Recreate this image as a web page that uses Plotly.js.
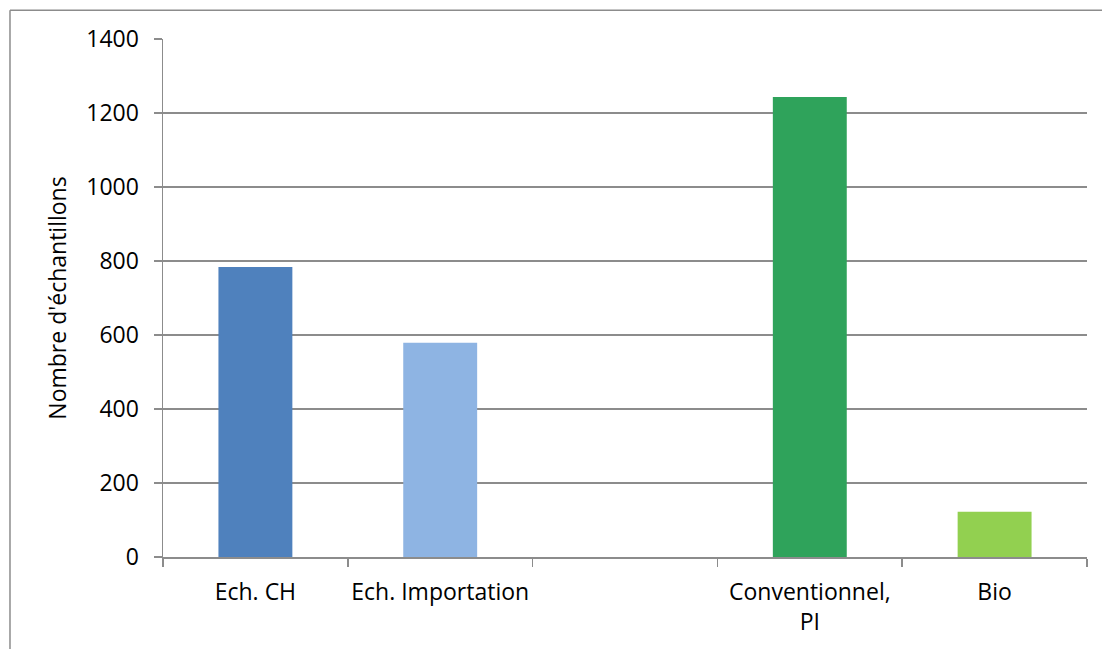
<!DOCTYPE html>
<html>
<head>
<meta charset="utf-8">
<script src="https://cdn.plot.ly/plotly-3.0.1.min.js"></script>
<style>html,body{margin:0;padding:0;background:#fff;}#chart{width:1102px;height:649px;}</style>
</head>
<body>
<div id="chart"></div>
<script>
const categories = ["Ech. CH", "Ech. Importation", "\u00a0", "Conventionnel,<br>PI", "Bio"];
const values = [784, 579, null, 1243, 122];
const barColors = ["#4F81BD", "#8EB4E3", "#FFFFFF", "#2FA35B", "#92D050"];
const yTitle = "Nombre d'échantillons";

const trace = {
  type: "bar",
  x: categories,
  y: values,
  marker: {color: barColors, line: {width: 0}},
  hoverinfo: "x+y"
};

const gridColor = "#8c8c8c";
const fontFam = "'Open Sans', Lato, sans-serif";
const fs = 23;

const layout = {
  width: 1102,
  height: 649,
  margin: {l: 163, r: 15, t: 39, b: 92},
  paper_bgcolor: "#ffffff",
  plot_bgcolor: "#ffffff",
  showlegend: false,
  bargap: 0.6,
  font: {family: fontFam, size: fs, color: "#000000"},
  xaxis: {
    type: "category",
    categoryorder: "array",
    categoryarray: categories,
    range: [-0.5, 4.5],
    tickson: "boundaries",
    tickangle: 0,
    ticks: "outside",
    ticklen: 8,
    tickwidth: 1.5,
    tickcolor: gridColor,
    showline: true,
    linecolor: gridColor,
    linewidth: 1.5,
    showgrid: false,
    zeroline: false,
    ticklabelstandoff: 14,
    tickfont: {family: fontFam, size: fs, color: "#000"},
    fixedrange: true
  },
  yaxis: {
    range: [0, 1400],
    dtick: 200,
    tick0: 0,
    ticks: "outside",
    ticklen: 8,
    tickwidth: 1.5,
    tickcolor: gridColor,
    showline: true,
    linecolor: gridColor,
    linewidth: 1.5,
    showgrid: true,
    gridcolor: gridColor,
    gridwidth: 1.5,
    zeroline: false,
    ticklabelstandoff: 10,
    tickfont: {family: fontFam, size: fs, color: "#000"},
    title: {text: yTitle, font: {family: fontFam, size: fs, color: "#000"}, standoff: 13},
    fixedrange: true
  },
  shapes: [
    {type: "line", xref: "paper", yref: "paper", x0: -0.1656, x1: 1.02, y0: 1.0554, y1: 1.0554, line: {color: gridColor, width: 1.5}},
    {type: "line", xref: "paper", yref: "paper", x0: -0.1656, x1: -0.1656, y0: 1.0554, y1: -0.19, line: {color: gridColor, width: 1.5}}
  ]
};

Plotly.newPlot("chart", [trace], layout, {displayModeBar: false, staticPlot: true});
</script>
</body>
</html>
